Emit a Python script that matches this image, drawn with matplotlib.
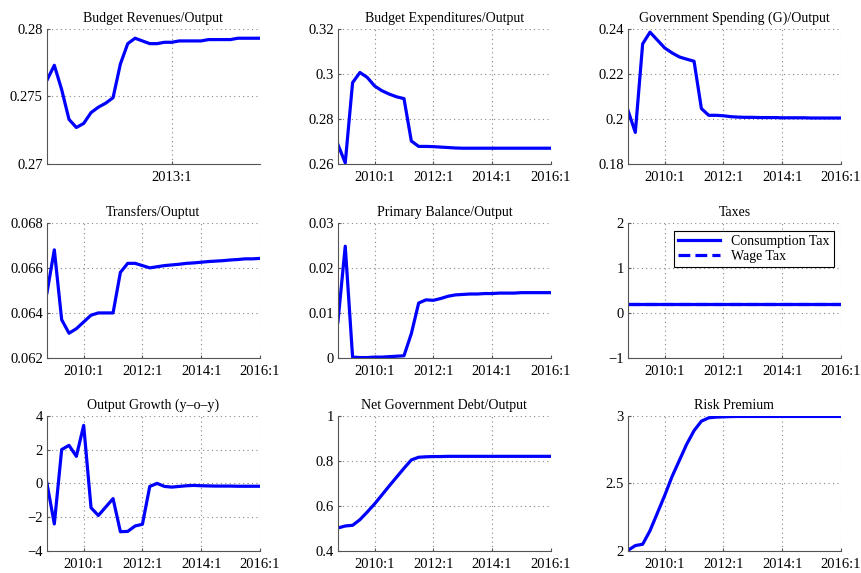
import numpy as np
import matplotlib
matplotlib.use("Agg")
import matplotlib.pyplot as plt

plt.rcParams['font.family'] = ['Liberation Serif', 'DejaVu Serif']

# quarters from 2008:4 to 2016:1
quarters = ["2008:4"] + [f"{y}:{q}" for y in range(2009, 2016) for q in (1, 2, 3, 4)] + ["2016:1"]

revenues = [0.2762, 0.2773, 0.2755, 0.2733, 0.2727, 0.2730, 0.2738, 0.2742, 0.2745, 0.2749,
            0.2774, 0.2789, 0.2793, 0.2791, 0.2789, 0.2789, 0.2790, 0.2790, 0.2791, 0.2791,
            0.2791, 0.2791, 0.2792, 0.2792, 0.2792, 0.2792, 0.2793, 0.2793, 0.2793, 0.2793]
expenditures = [0.2687, 0.2605, 0.2961, 0.3006, 0.2984, 0.2946, 0.2925, 0.2910, 0.2898, 0.2890,
                0.2702, 0.2678, 0.2678, 0.2677, 0.2675, 0.2673, 0.2671, 0.2670, 0.2670, 0.2670,
                0.2670, 0.2670, 0.2670, 0.2670, 0.2670, 0.2670, 0.2670, 0.2670, 0.2670, 0.2670]
gov_spending = [0.2038, 0.1940, 0.2333, 0.2385, 0.2350, 0.2315, 0.2293, 0.2275, 0.2265, 0.2256,
                0.2046, 0.2016, 0.2016, 0.2014, 0.2010, 0.2008, 0.2007, 0.2007, 0.2006, 0.2006,
                0.2006, 0.2005, 0.2005, 0.2005, 0.2005, 0.2004, 0.2004, 0.2004, 0.2004, 0.2004]
transfers = [0.0649, 0.0668, 0.0637, 0.0631, 0.0633, 0.0636, 0.0639, 0.0640, 0.0640, 0.0640,
             0.0658, 0.0662, 0.0662, 0.0661, 0.0660, 0.06605, 0.0661, 0.06613, 0.06616, 0.0662,
             0.06622, 0.06625, 0.06628, 0.0663, 0.06632, 0.06635, 0.06637, 0.0664, 0.0664, 0.06642]
primary_balance = [0.0080, 0.0248, 0.0002, 0.0001, 0.0001, 0.0002, 0.0002, 0.0003, 0.0004, 0.0005,
                   0.0054, 0.0122, 0.0129, 0.0128, 0.0132, 0.0137, 0.0140, 0.0141, 0.0142, 0.0142,
                   0.0143, 0.0143, 0.0144, 0.0144, 0.0144, 0.0145, 0.0145, 0.0145, 0.0145, 0.0145]
consumption_tax = [0.2] * 30
wage_tax = [0.2] * 30
output_growth = [0.0, -2.4, 2.0, 2.25, 1.6, 3.43, -1.44, -1.9, -1.4, -0.9,
                 -2.86, -2.84, -2.52, -2.42, -0.18, 0.0, -0.18, -0.22, -0.18, -0.14,
                 -0.12, -0.14, -0.15, -0.16, -0.16, -0.16, -0.17, -0.17, -0.17, -0.17]
net_debt = [0.502, 0.511, 0.514, 0.539, 0.573, 0.609, 0.649, 0.689, 0.728, 0.767,
            0.804, 0.816, 0.818, 0.819, 0.819, 0.82, 0.82, 0.82, 0.82, 0.82,
            0.82, 0.82, 0.82, 0.82, 0.82, 0.82, 0.82, 0.82, 0.82, 0.82]
risk_premium = [2.005, 2.04, 2.05, 2.15, 2.28, 2.41, 2.55, 2.67, 2.79, 2.89,
                2.96, 2.985, 2.99, 2.992, 2.994, 2.995, 2.995, 2.995, 2.995, 2.995,
                2.995, 2.995, 2.995, 2.995, 2.995, 2.995, 2.995, 2.995, 2.995, 2.995]

x = np.arange(len(quarters))
xt_std = ["2010:1", "2012:1", "2014:1", "2016:1"]

panels = [
    ("Budget Revenues/Output", [revenues], (0.27, 0.28), [0.27, 0.275, 0.28], ["0.27", "0.275", "0.28"], ["2013:1"]),
    ("Budget Expenditures/Output", [expenditures], (0.26, 0.32), [0.26, 0.28, 0.30, 0.32], ["0.26", "0.28", "0.3", "0.32"], xt_std),
    ("Government Spending (G)/Output", [gov_spending], (0.18, 0.24), [0.18, 0.20, 0.22, 0.24], ["0.18", "0.2", "0.22", "0.24"], xt_std),
    ("Transfers/Ouptut", [transfers], (0.062, 0.068), [0.062, 0.064, 0.066, 0.068], ["0.062", "0.064", "0.066", "0.068"], xt_std),
    ("Primary Balance/Output", [primary_balance], (0, 0.03), [0, 0.01, 0.02, 0.03], ["0", "0.01", "0.02", "0.03"], xt_std),
    ("Taxes", [consumption_tax, wage_tax], (-1, 2), [-1, 0, 1, 2], ["\u22121", "0", "1", "2"], xt_std),
    ("Output Growth (y\u2013o\u2013y)", [output_growth], (-4, 4), [-4, -2, 0, 2, 4], ["\u22124", "\u22122", "0", "2", "4"], xt_std),
    ("Net Government Debt/Output", [net_debt], (0.4, 1.0), [0.4, 0.6, 0.8, 1.0], ["0.4", "0.6", "0.8", "1"], xt_std),
    ("Risk Premium", [risk_premium], (2, 3), [2, 2.5, 3], ["2", "2.5", "3"], xt_std),
]

fig = plt.figure(figsize=(8.62, 5.73), dpi=100)
lefts = [0.0545, 0.392, 0.7285]
bottoms = [0.7138, 0.3752, 0.0384]
w, h = 0.247, 0.236

for i, (title, series, ylim, yt, ytl, xtl) in enumerate(panels):
    r, c = divmod(i, 3)
    ax = fig.add_axes([lefts[c], bottoms[r], w, h])
    styles = ["-", "--"]
    for j, s in enumerate(series):
        ax.plot(x, s, color="#0000ff", lw=2.3, ls=styles[j])
    ax.set_xlim(0, len(quarters) - 1)
    ax.set_ylim(*ylim)
    ax.set_yticks(yt)
    ax.set_yticklabels(ytl)
    ax.set_xticks([quarters.index(q) for q in xtl])
    ax.set_xticklabels(xtl)
    ax.set_title(title, fontsize=10, pad=5)
    ax.grid(True, ls=(0, (1, 3)), color="#888888", lw=0.8)
    for sp in ["top", "right"]:
        ax.spines[sp].set_visible(False)
    for sp in ["left", "bottom"]:
        ax.spines[sp].set_color("#555555")
        ax.spines[sp].set_linewidth(0.8)
    ax.tick_params(direction="in", length=2, labelsize=10.5, color="#555555")
    ax.tick_params(axis="x", pad=5)
    ax.tick_params(axis="y", pad=3)
    if title == "Taxes":
        leg = ax.legend(["Consumption Tax", "Wage Tax"], loc="upper right", fontsize=10,
                        fancybox=False, framealpha=1, edgecolor="black",
                        borderpad=0.3, handlelength=3.0, labelspacing=0.15,
                        bbox_to_anchor=(1.0, 0.99))
        leg.get_frame().set_linewidth(0.8)

fig.savefig("out.png", dpi=100)
